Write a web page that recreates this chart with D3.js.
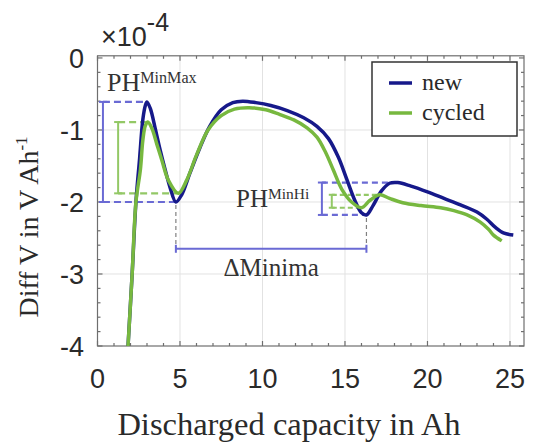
<!DOCTYPE html>
<html>
<head>
<meta charset="utf-8">
<script src="https://cdn.jsdelivr.net/npm/d3@7"></script>
<style>
  html, body { margin: 0; padding: 0; background: #fff; }
  svg { display: block; }
</style>
</head>
<body>
<div id="chart"></div>
<script>
// ---------- data ----------
const newX = [1.85, 2.1, 2.33, 2.55, 2.75, 2.9, 3.0, 3.2, 3.5, 3.8, 4.1, 4.4, 4.75, 5.1, 5.6, 6.2, 6.8, 7.5, 8.2, 8.8, 9.6, 10.5, 11.5, 12.5, 13.3, 14.0, 14.6, 15.1, 15.6, 16.0, 16.3, 16.7, 17.2, 17.7, 18.2, 19.0, 20.0, 21.0, 22.0, 23.0, 23.6, 24.1, 24.6, 25.2];
const newY = [-4.0, -3.0, -2.0, -1.4, -0.85, -0.66, -0.61, -0.7, -0.98, -1.28, -1.55, -1.8, -2.0, -1.9, -1.6, -1.25, -0.95, -0.72, -0.62, -0.6, -0.62, -0.66, -0.73, -0.83, -0.95, -1.12, -1.38, -1.68, -1.98, -2.15, -2.18, -2.05, -1.85, -1.74, -1.73, -1.78, -1.86, -1.95, -2.04, -2.14, -2.24, -2.35, -2.43, -2.46];

const cycledX = [1.85, 2.1, 2.33, 2.6, 2.75, 2.9, 3.05, 3.3, 3.6, 3.9, 4.3, 4.9, 5.4, 6.0, 6.7, 7.5, 8.3, 9.2, 10.2, 11.0, 11.9, 12.7, 13.3, 13.8, 14.3, 14.8, 15.4, 16.0, 16.5, 17.1, 17.7, 18.5, 19.6, 20.8, 21.6, 22.4, 23.2, 23.7, 24.0, 24.5];
const cycledY = [-4.0, -3.0, -2.0, -1.55, -1.14, -0.94, -0.89, -0.98, -1.2, -1.42, -1.7, -1.88, -1.7, -1.35, -1.0, -0.8, -0.71, -0.69, -0.72, -0.78, -0.86, -0.97, -1.1, -1.3, -1.56, -1.82, -2.0, -2.08, -1.98, -1.9, -1.95, -2.01, -2.05, -2.08, -2.12, -2.18, -2.28, -2.38, -2.46, -2.54];

const seriesNames = ['new', 'cycled'];
const xTicks = [0, 5, 10, 15, 20, 25];
const yTicks = [0, -1, -2, -3, -4];

// ---------- layout ----------
const W = 539, H = 447;
const colNew = '#16198a', colCyc = '#77b83f';
const colNewLt = '#6a6ad4', colCycLt = '#93c866';

const x = d3.scaleLinear().domain([0, 25.85]).range([97.5, 524]);
const y = d3.scaleLinear().domain([-4, 0.03]).range([346, 55.8]);

const svg = d3.select('#chart').append('svg')
  .attr('width', W).attr('height', H);

const sans = 'Liberation Sans, Arial, sans-serif';
const serif = 'Liberation Serif, Times New Roman, serif';

// grid
const grid = svg.append('g').attr('stroke', '#e2e2e2').attr('stroke-width', 1);
xTicks.filter(t => t > 0).forEach(t => {
  grid.append('line').attr('x1', x(t)).attr('x2', x(t)).attr('y1', y.range()[1]).attr('y2', y.range()[0]);
});
yTicks.filter(t => t < 0 && t > -4).forEach(t => {
  grid.append('line').attr('x1', x.range()[0]).attr('x2', x.range()[1]).attr('y1', y(t)).attr('y2', y(t));
});

// axes box with inward ticks on all sides
const x0 = x.range()[0], x1 = x.range()[1], yb = y.range()[0], yt = y.range()[1];
const box = svg.append('g').attr('stroke', '#6e6e6e').attr('stroke-width', 1.2).attr('fill', 'none');
box.append('rect').attr('x', x0).attr('y', yt).attr('width', x1 - x0).attr('height', yb - yt);

d3.range(0, 26, 1).forEach(t => {
  const len = t % 5 === 0 ? 5 : 3;
  box.append('line').attr('x1', x(t)).attr('x2', x(t)).attr('y1', yb).attr('y2', yb - len);
  box.append('line').attr('x1', x(t)).attr('x2', x(t)).attr('y1', yt).attr('y2', yt + len);
});
d3.range(-4, 0.01, 0.2).forEach(t => {
  const major = Math.abs(t - Math.round(t)) < 1e-6;
  const len = major ? 5 : 3;
  box.append('line').attr('x1', x0).attr('x2', x0 + len).attr('y1', y(t)).attr('y2', y(t));
  box.append('line').attr('x1', x1).attr('x2', x1 - len).attr('y1', y(t)).attr('y2', y(t));
});

// tick labels
svg.append('g').selectAll('text').data(xTicks).join('text')
  .attr('x', d => x(d)).attr('y', 388)
  .attr('text-anchor', 'middle')
  .attr('font-family', sans).attr('font-size', 27).attr('fill', '#2a2a2a')
  .text(d => d);
svg.append('g').selectAll('text').data(yTicks).join('text')
  .attr('x', 84).attr('y', d => y(d) + 10)
  .attr('text-anchor', 'end')
  .attr('font-family', sans).attr('font-size', 27).attr('fill', '#2a2a2a')
  .text(d => d);

// exponent
const ex = svg.append('text').attr('x', 101).attr('y', 46)
  .attr('font-family', sans).attr('font-size', 27).attr('fill', '#2a2a2a');
ex.append('tspan').text('\u00d710');
ex.append('tspan').attr('dy', -15).attr('font-size', 25).text('-4');

// axis labels
svg.append('text').attr('x', 289).attr('y', 435)
  .attr('text-anchor', 'middle')
  .attr('font-family', serif).attr('font-size', 32.5).attr('fill', '#2a2a2a')
  .text('Discharged capacity in Ah');
const yl = svg.append('text')
  .attr('transform', 'translate(38,227) rotate(-90)')
  .attr('text-anchor', 'middle')
  .attr('font-family', serif).attr('font-size', 28).attr('fill', '#2a2a2a');
yl.append('tspan').text('Diff V in V Ah');
yl.append('tspan').attr('dy', -11).attr('font-size', 17).text('-1');

// ---------- series ----------
const newPts = newX.map((v, i) => [v, newY[i]]);
const cycPts = cycledX.map((v, i) => [v, cycledY[i]]);
const line = d3.line().x(d => x(d[0])).y(d => y(d[1])).curve(d3.curveCatmullRom.alpha(0.5));

// feature points derived from the series
function extreme(pts, lo, hi, fn) {
  const sub = pts.filter(p => p[0] >= lo && p[0] <= hi);
  return sub.reduce((a, b) => (fn(b[1], a[1]) ? b : a));
}
const gt = (a, b) => a > b, lt = (a, b) => a < b;
const nPk1 = extreme(newPts, 0, 4, gt), nMn1 = extreme(newPts, 4, 7, lt);
const nMn2 = extreme(newPts, 15, 17, lt), nPk2 = extreme(newPts, 16.5, 20, gt);
const cPk1 = extreme(cycPts, 0, 4, gt), cMn1 = extreme(cycPts, 4, 7, lt);
const cMn2 = extreme(cycPts, 15, 17, lt), cPk2 = extreme(cycPts, 16.2, 20, gt);

// ---------- annotations ----------
const ann = svg.append('g').attr('fill', 'none');
function bracket(bx, p1, p2, col, cap, dash) {
  const px = x(bx);
  ann.append('line').attr('x1', px).attr('x2', px).attr('y1', y(p1[1])).attr('y2', y(p2[1]))
    .attr('stroke', col).attr('stroke-width', 2);
  [p1, p2].forEach(p => {
    ann.append('line').attr('x1', px - cap).attr('x2', px + cap).attr('y1', y(p[1])).attr('y2', y(p[1]))
      .attr('stroke', col).attr('stroke-width', 2);
    ann.append('line').attr('x1', px).attr('x2', x(p[0])).attr('y1', y(p[1])).attr('y2', y(p[1]))
      .attr('stroke', col).attr('stroke-width', 2.2).attr('stroke-dasharray', dash);
  });
}
bracket(0.33, nPk1, nMn1, colNewLt, 4, '7,4');
bracket(1.25, cPk1, cMn1, colCycLt, 4, '7,4');
bracket(13.6, nPk2, nMn2, colNewLt, 4, '6,4');
bracket(14.2, cPk2, cMn2, colCycLt, 3, '5,3');

// delta minima
const dmY = -2.65;
[nMn1, nMn2].forEach(p => {
  ann.append('line').attr('x1', x(p[0])).attr('x2', x(p[0])).attr('y1', y(p[1]) + 3).attr('y2', y(dmY))
    .attr('stroke', '#808080').attr('stroke-width', 1.2).attr('stroke-dasharray', '4,3');
  ann.append('line').attr('x1', x(p[0])).attr('x2', x(p[0])).attr('y1', y(dmY) - 4).attr('y2', y(dmY) + 4)
    .attr('stroke', colNewLt).attr('stroke-width', 2);
});
ann.append('line').attr('x1', x(nMn1[0])).attr('x2', x(nMn2[0])).attr('y1', y(dmY)).attr('y2', y(dmY))
  .attr('stroke', colNewLt).attr('stroke-width', 2);
svg.append('text').attr('x', x((nMn1[0] + nMn2[0]) / 2)).attr('y', 276)
  .attr('text-anchor', 'middle')
  .attr('font-family', serif).attr('font-size', 25).attr('fill', '#333')
  .text('\u0394Minima');

function phLabel(tx, ty, fs, sup) {
  const t = svg.append('text').attr('x', tx).attr('y', ty)
    .attr('font-family', serif).attr('font-size', fs).attr('fill', '#333');
  t.append('tspan').text('PH');
  t.append('tspan').attr('dy', -8).attr('font-size', fs * 0.62).text(sup);
}
phLabel(107, 91, 26, 'MinMax');
phLabel(236, 207, 25, 'MinHi');

// curves
svg.append('path').datum(newPts).attr('d', line)
  .attr('fill', 'none').attr('stroke', colNew).attr('stroke-width', 3.5);
svg.append('path').datum(cycPts).attr('d', line)
  .attr('fill', 'none').attr('stroke', colCyc).attr('stroke-width', 3.5);

// ---------- legend ----------
const lg = svg.append('g');
lg.append('rect').attr('x', 372).attr('y', 62).attr('width', 145).attr('height', 74)
  .attr('fill', '#fff').attr('stroke', '#333').attr('stroke-width', 1.5);
seriesNames.forEach((name, i) => {
  const ly = 83 + i * 30;
  lg.append('line').attr('x1', 389).attr('x2', 412).attr('y1', ly).attr('y2', ly)
    .attr('stroke', i === 0 ? colNew : colCyc).attr('stroke-width', 3.5);
  lg.append('text').attr('x', 422).attr('y', ly + 7)
    .attr('font-family', serif).attr('font-size', 24).attr('fill', '#2a2a2a')
    .text(name);
});
</script>
</body>
</html>
